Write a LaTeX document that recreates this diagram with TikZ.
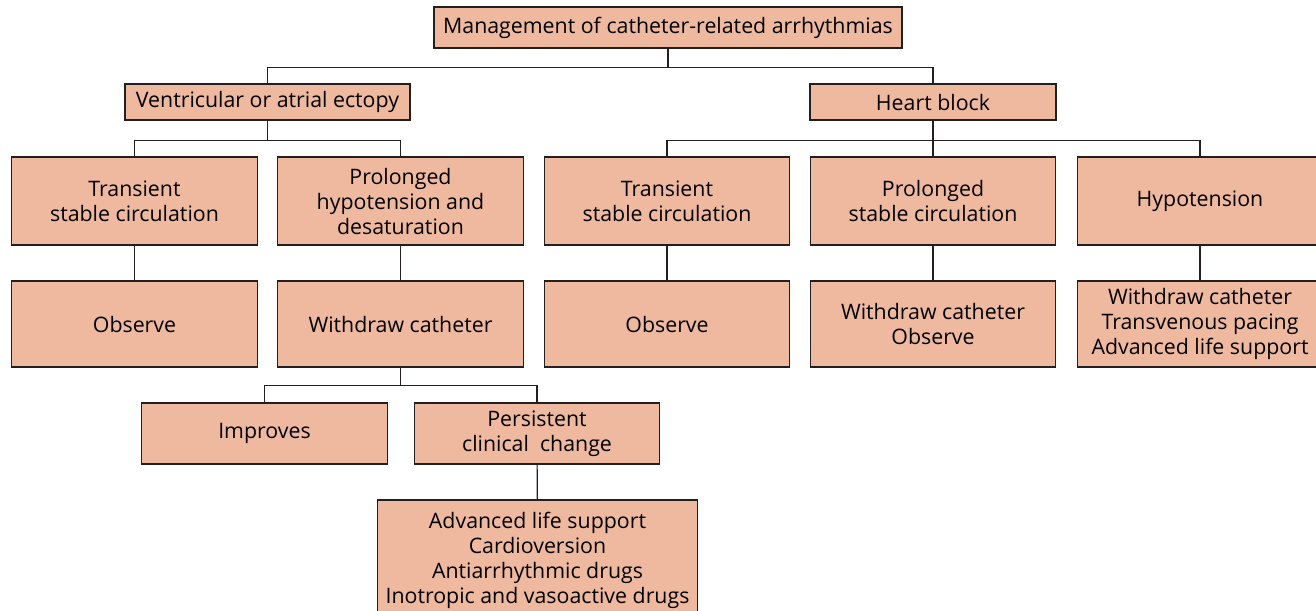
\documentclass[tikz,border=0pt]{standalone}
\usepackage{fontspec}
\setmainfont{Open Sans}
\usetikzlibrary{positioning, calc}
\definecolor{boxfill}{RGB}{239,185,160}
\definecolor{boxline}{RGB}{35,31,32}
\begin{document}
\begin{tikzpicture}[
    x=0.75pt, y=-0.75pt,
    box/.style={draw=boxline, line width=0.9pt, rectangle, fill=boxfill, align=center, inner sep=0pt, minimum width=184pt, font=\fontsize{16}{18.75}\selectfont},
    link/.style={draw=boxline, line width=0.9pt}
]
    \useasboundingbox (0,0) rectangle (1316,610);

    % --- Root ---
    \node[box, minimum width=351pt, minimum height=30.75pt] (root) at (668,27.5) {Management of catheter-related arrhythmias};

    % --- Second level ---
    \node[box, minimum width=213.75pt, minimum height=27pt] (ectopy) at (267.5,102) {Ventricular or atrial ectopy};
    \node[box, minimum width=184.5pt, minimum height=27pt] (block) at (933,102) {Heart block};

    % --- Third level ---
    \node[box, minimum height=66pt] (transA) at (134.5,201) {Transient\\stable circulation};
    \node[box, minimum height=66pt] (hypodes) at (400.5,201) {Prolonged\\hypotension and\\desaturation};
    \node[box, minimum height=66pt] (transB) at (667,201) {Transient\\stable circulation};
    \node[box, minimum height=66pt] (prolong) at (933,201) {Prolonged\\stable circulation};
    \node[box, minimum height=66pt] (hypo) at (1200,201) {Hypotension};

    % --- Fourth level ---
    \node[box, minimum height=64.5pt] (obsA) at (134.5,324) {Observe};
    \node[box, minimum height=64.5pt] (withA) at (400.5,324) {Withdraw catheter};
    \node[box, minimum height=64.5pt] (obsB) at (667,324) {Observe};
    \node[box, minimum height=64.5pt] (withB) at (933,324) {Withdraw catheter\\Observe};
    \node[box, minimum height=64.5pt] (withC) at (1200,324) {Withdraw catheter\\Transvenous pacing\\Advanced life support};

    % --- After withdrawal ---
    \node[box, minimum height=45.75pt] (improves) at (264.5,433.5) {Improves};
    \node[box, minimum height=45.75pt] (persist) at (537,433.5) {Persistent\\clinical\ \ change};
    \node[box, minimum width=240pt, minimum height=90pt] (support) at (537.5,560) {Advanced life support\\Cardioversion\\Antiarrhythmic drugs\\Inotropic and vasoactive drugs};

    % --- Connectors ---
    \draw[link] (root.south) -- ++(0,19) -| (ectopy.north);
    \draw[link] (root.south) -- ++(0,19) -| (block.north);

    \draw[link] (ectopy.south) -- ++(0,20) -| (transA.north);
    \draw[link] (ectopy.south) -- ++(0,20) -| (hypodes.north);

    \draw[link] (block.south) -- ++(0,20) -| (transB.north);
    \draw[link] (block.south) -- (prolong.north);
    \draw[link] (block.south) -- ++(0,20) -| (hypo.north);

    \draw[link] (transA) -- (obsA);
    \draw[link] (hypodes) -- (withA);
    \draw[link] (transB) -- (obsB);
    \draw[link] (prolong) -- (withB);
    \draw[link] (hypo) -- (withC);

    \draw[link] (withA.south) -- ++(0,18) -| (improves.north);
    \draw[link] (withA.south) -- ++(0,18) -| (persist.north);
    \draw[link] (persist) -- (support);
\end{tikzpicture}
\end{document}
